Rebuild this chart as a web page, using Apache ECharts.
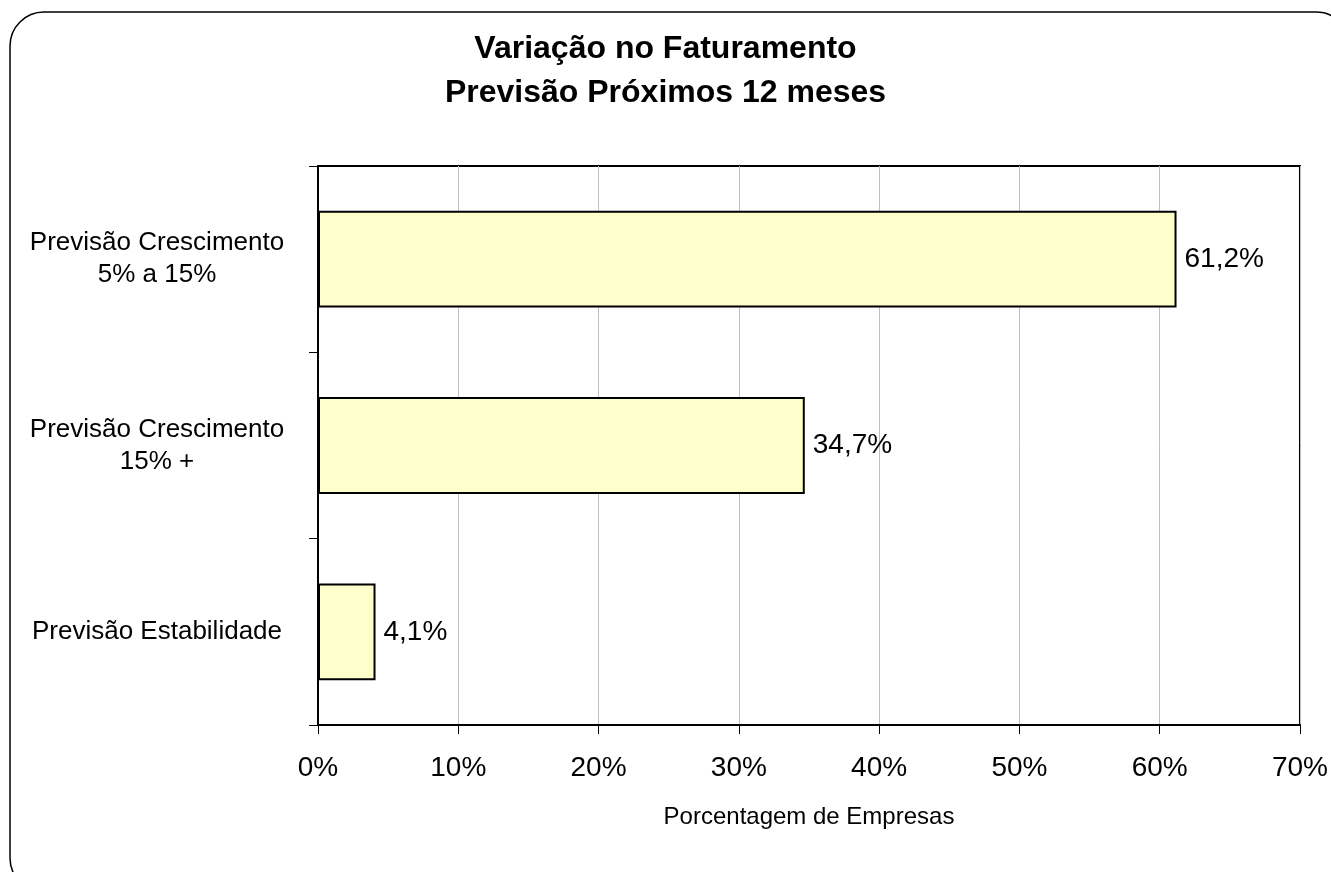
<!DOCTYPE html>
<html lang="pt">
<head>
    <meta charset="UTF-8">
    <title>Variação no Faturamento</title>
    <script type="text/javascript" src="https://cdn.jsdelivr.net/npm/echarts@6/dist/echarts.min.js"></script>
    <style>
        html, body { margin: 0; padding: 0; background: #fff; }
        #container { width: 1331px; height: 872px; }
    </style>
</head>
<body>
<div id="container"></div>
<script type="text/javascript">
    // categorias de baixo para cima (eixo y invertido do Excel)
    var categorias = ['Previsão Estabilidade', 'Previsão Crescimento\n15% +', 'Previsão Crescimento\n5% a 15%'];
    var valores = [4.1, 34.7, 61.2];
    var ticksX = [0, 10, 20, 30, 40, 50, 60, 70];

    var dom = document.getElementById("container");
    var myChart = echarts.init(dom);
    var fonte = '"Liberation Sans", Arial, sans-serif';

    var option = {
        animation: false,
        backgroundColor: '#fff',
        textStyle: { fontFamily: fonte, color: '#000' },
        graphic: [{
            type: 'rect',
            shape: { x: 10, y: 12, width: 1340, height: 880, r: 34 },
            style: { fill: 'none', stroke: '#000', lineWidth: 1.5 },
            silent: true
        }],
        title: {
            text: 'Variação no Faturamento\nPrevisão Próximos 12 meses',
            left: 'center',
            top: 22,
            textStyle: {
                fontFamily: fonte,
                fontSize: 32,
                fontWeight: 'bold',
                color: '#000',
                lineHeight: 44
            }
        },
        grid: {
            left: 318,
            top: 166,
            width: 983,
            height: 559,
            show: true,
            borderColor: '#000',
            borderWidth: 2
        },
        xAxis: {
            type: 'value',
            min: ticksX[0],
            max: ticksX[ticksX.length - 1],
            interval: 10,
            name: 'Porcentagem de Empresas',
            nameLocation: 'middle',
            nameGap: 80,
            nameTextStyle: { fontFamily: fonte, fontSize: 24, color: '#000' },
            axisLine: { show: true, lineStyle: { color: '#000', width: 2 } },
            axisTick: { show: true, length: 9, lineStyle: { color: '#000', width: 1 } },
            axisLabel: {
                margin: 29,
                fontSize: 28,
                color: '#000',
                fontFamily: fonte,
                formatter: '{value}%'
            },
            splitLine: { show: true, lineStyle: { color: '#c0c0c0', width: 1 } }
        },
        yAxis: {
            type: 'category',
            data: categorias,
            axisLine: { show: true, lineStyle: { color: '#000', width: 2 } },
            axisTick: { show: true, length: 9, lineStyle: { color: '#000', width: 1 } },
            axisLabel: {
                margin: 161,
                align: 'center',
                fontSize: 26,
                lineHeight: 32,
                color: '#000',
                fontFamily: fonte
            },
            splitLine: { show: false }
        },
        series: [{
            type: 'bar',
            data: valores,
            barWidth: '52%',
            itemStyle: { color: '#FFFFCC', borderColor: '#000', borderWidth: 2 },
            label: {
                show: true,
                position: 'right',
                distance: 8,
                fontSize: 28,
                color: '#000',
                fontFamily: fonte,
                formatter: function (p) {
                    return p.value.toFixed(1).replace('.', ',') + '%';
                }
            }
        }]
    };

    if (option && typeof option === "object") {
        myChart.setOption(option, true);
    }
</script>
</body>
</html>
